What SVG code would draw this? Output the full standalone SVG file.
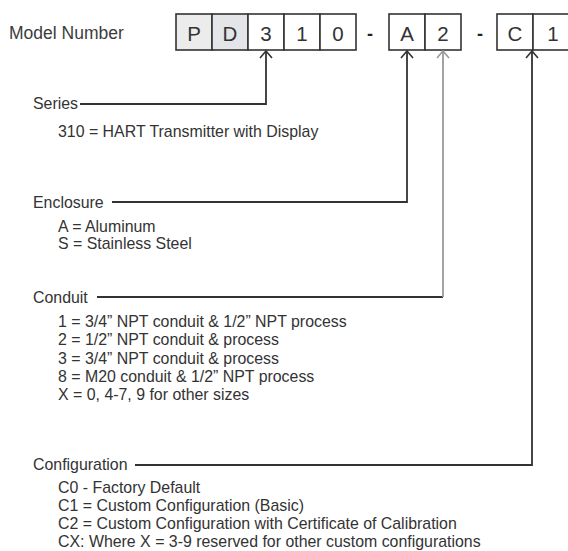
<svg xmlns="http://www.w3.org/2000/svg" width="568" height="551" viewBox="0 0 568 551">
<style>
.t{font-family:"Liberation Sans",Arial,sans-serif;font-size:15.9px;fill:#333}
.m{font-family:"Liberation Sans",Arial,sans-serif;font-size:17.5px;fill:#3c3c3c}
.c{font-family:"Liberation Sans",Arial,sans-serif;font-size:20.5px;fill:#333;text-anchor:middle}
.d{font-family:"Liberation Sans",Arial,sans-serif;font-size:18px;font-weight:bold;fill:#222;text-anchor:middle}
.cell{stroke:#333;stroke-width:1.6;fill:#fff}
.ln{fill:none;stroke:#333;stroke-width:1.8}
.lg{fill:none;stroke:#999;stroke-width:1.8}
</style>
<defs>
<marker id="ah" viewBox="-9 -8 11 16" refX="0" refY="0" markerWidth="11" markerHeight="16" markerUnits="userSpaceOnUse" orient="auto" overflow="visible">
<path d="M-7,-6 L0,0 L-7,6" fill="none" stroke="#333" stroke-width="1.6"/>
</marker>
<marker id="ahg" viewBox="-9 -8 11 16" refX="0" refY="0" markerWidth="11" markerHeight="16" markerUnits="userSpaceOnUse" orient="auto" overflow="visible">
<path d="M-7,-6 L0,0 L-7,6" fill="none" stroke="#999" stroke-width="1.6"/>
</marker>
</defs>
<rect width="568" height="551" fill="#fff"/>
<g id="model-number">
<text class="m" x="9" y="39">Model Number</text>
</g>
<g id="code">
<rect class="cell" x="176" y="14" width="36" height="36" style="fill:#ececec"/>
<rect class="cell" x="212" y="14" width="36" height="36" style="fill:#e3e5e9"/>
<rect class="cell" x="248" y="14" width="36" height="36"/>
<rect class="cell" x="284" y="14" width="36" height="36"/>
<rect class="cell" x="320" y="14" width="36" height="36"/>
<text class="c" x="194" y="40.5">P</text>
<text class="c" x="230" y="40.5">D</text>
<text class="c" x="266" y="40.5">3</text>
<text class="c" x="302" y="40.5">1</text>
<text class="c" x="338" y="40.5">0</text>
<text class="d" x="370" y="40">-</text>
<rect class="cell" x="389" y="14" width="36" height="36"/>
<rect class="cell" x="425" y="14" width="36" height="36"/>
<text class="c" x="407" y="40.5">A</text>
<text class="c" x="443" y="40.5">2</text>
<text class="d" x="480" y="40">-</text>
<rect class="cell" x="497" y="14" width="36" height="36"/>
<rect class="cell" x="533" y="14" width="40" height="36"/>
<text class="c" x="515" y="40.5">C</text>
<text class="c" x="553" y="40.5">1</text>
</g>
<g id="connectors">
<path class="ln" d="M80,104 H266 V51" marker-end="url(#ah)"/>
<path class="ln" d="M112,202 H407 V51" marker-end="url(#ah)"/>
<path class="ln" d="M97,297 H443"/>
<path class="lg" d="M443,297 V51" marker-end="url(#ahg)"/>
<path class="ln" d="M135,465 H532 V51" marker-end="url(#ah)"/>
</g>
<g id="series">
<text class="t" x="33" y="109">Series</text>
<text class="t" x="58" y="136.5">310 = HART Transmitter with Display</text>
</g>
<g id="enclosure">
<text class="t" x="33" y="207.5">Enclosure</text>
<text class="t" x="58" y="231.5">A = Aluminum</text>
<text class="t" x="58" y="249">S = Stainless Steel</text>
</g>
<g id="conduit">
<text class="t" x="33" y="302.5">Conduit</text>
<text class="t" x="58" y="327">1 = 3/4” NPT conduit &amp; 1/2” NPT process</text>
<text class="t" x="58" y="345">2 = 1/2” NPT conduit &amp; process</text>
<text class="t" x="58" y="363.5">3 = 3/4” NPT conduit &amp; process</text>
<text class="t" x="58" y="381.5">8 = M20 conduit &amp; 1/2” NPT process</text>
<text class="t" x="58" y="400">X = 0, 4-7, 9 for other sizes</text>
</g>
<g id="configuration">
<text class="t" x="33" y="470">Configuration</text>
<text class="t" x="58" y="493">C0 - Factory Default</text>
<text class="t" x="58" y="511">C1 = Custom Configuration (Basic)</text>
<text class="t" x="58" y="529">C2 = Custom Configuration with Certificate of Calibration</text>
<text class="t" x="58" y="547">CX: Where X = 3-9 reserved for other custom configurations</text>
</g>
</svg>
